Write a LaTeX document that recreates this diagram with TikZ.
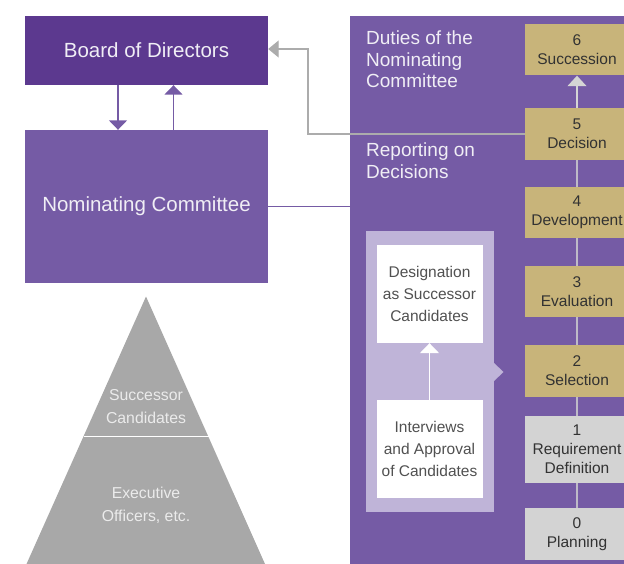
\documentclass[tikz,border=0pt]{standalone}
\usepackage{fontspec}
\setmainfont{Liberation Sans}
\usetikzlibrary{arrows.meta}
\definecolor{boardc}{RGB}{92,57,143}
\definecolor{ncc}{RGB}{117,91,165}
\definecolor{goldc}{RGB}{200,180,122}
\definecolor{stepgray}{RGB}{211,211,211}
\definecolor{lightpur}{RGB}{191,180,216}
\definecolor{trigray}{RGB}{168,168,168}
\definecolor{linegray}{RGB}{172,172,172}
\definecolor{connc}{RGB}{190,186,200}
\definecolor{txtdark}{RGB}{50,50,50}
\definecolor{txtlight}{RGB}{240,238,245}
\begin{document}
\begin{tikzpicture}[x=1pt,y=-1pt,
  headbox/.style={inner sep=0pt, text=txtlight, font=\fontsize{20.5}{24}\selectfont},
  paneltext/.style={inner sep=0pt, text=txtlight, align=left, anchor=north west, font=\fontsize{19}{21.5}\selectfont},
  stepbox/.style={inner sep=0pt, minimum width=104pt, align=center, text=txtdark, font=\fontsize{15.5}{19}\selectfont, execute at begin node={\rule{0pt}{15pt}}},
  goldstep/.style={stepbox, fill=goldc},
  graystep/.style={stepbox, fill=stepgray},
  whitebox/.style={fill=white, inner sep=0pt, minimum width=106pt, minimum height=98pt, align=center, text=txtdark!85, font=\fontsize{15.5}{21.7}\selectfont},
  tritext/.style={inner sep=0pt, align=center, text=white!92!black, font=\fontsize{15.8}{23}\selectfont},
  purarrow/.style={draw=ncc, line width=1.5pt, -{Triangle[width=18pt,length=9.5pt]}},
  conn/.style={draw=connc, line width=1.3pt},
]
\useasboundingbox (0,0) rectangle (624,564);

% left boxes
\node[headbox, fill=boardc, minimum width=243pt, minimum height=69pt] (board) at (146.5,50.5) {Board of Directors};
\node[headbox, fill=ncc, minimum width=243pt, minimum height=153pt] (nc) at (146.5,206.5) {Nominating Committee};

\draw[purarrow] ([xshift=-28.5pt]board.south) -- ([xshift=-28.5pt]nc.north);
\draw[purarrow] ([xshift=27pt]nc.north) -- ([xshift=27pt]board.south);

% right panel
\node[fill=ncc, inner sep=0pt, minimum width=290pt, minimum height=548pt] (panel) at (495,290) {};

\draw[ncc, line width=1.3pt] (nc.east) -- (nc.east -| panel.west);

\node[paneltext] (duties) at (366,31) {Duties of the\\Nominating\\Committee};
\node[paneltext] (report) at (366,143) {Reporting on\\Decisions};

% steps
\node[goldstep, minimum height=51pt] (s6) at (577,50) {6\\Succession};
\node[goldstep, minimum height=52pt] (s5) at (577,134) {5\\Decision};
\node[goldstep, minimum height=51pt] (s4) at (577,212.5) {4\\Development};
\node[goldstep, minimum height=51pt] (s3) at (577,291.5) {3\\Evaluation};
\node[goldstep, minimum height=52pt] (s2) at (577,371) {2\\Selection};
\node[graystep, minimum height=67pt] (s1) at (577,449.5) {1\\Requirement\\Definition};
\node[graystep, minimum height=52pt] (s0) at (577,534) {0\\Planning};

\draw[conn] (s0.north) -- (s1.south);
\draw[conn] (s1.north) -- (s2.south);
\draw[conn] (s2.north) -- (s3.south);
\draw[conn] (s3.north) -- (s4.south);
\draw[conn] (s4.north) -- (s5.south);
\draw[draw=stepgray!95!white, line width=1.3pt, -{Triangle[width=19pt,length=10.5pt]}] (s5.north) -- (s6.south);

% gray reporting line
\coordinate (bend) at (308,0);
\draw[linegray, line width=1.3pt, -{Triangle[width=17pt,length=10.5pt]}]
  (s5.west) -- (s5.west -| bend) |- ([yshift=1.5pt]board.east);

% light purple panel with pointer
\fill[lightpur] (366,231) rectangle (494,512);
\coordinate (ptip) at (503.5,372);
\fill[lightpur] (494,363) -- (ptip) -- (494,381) -- cycle;
\node[whitebox] (desig) at (429.5,294) {Designation\\as Successor\\Candidates};
\node[whitebox] (interv) at (429.5,449) {Interviews\\and Approval\\of Candidates};
\draw[white, line width=1.5pt, -{Triangle[width=19pt,length=10pt]}] (interv.north) -- (desig.south);

% pyramid
\coordinate (apex) at (146,296.5);
\coordinate (bl) at (26.5,564);
\coordinate (br) at (265,564);
\fill[trigray] (apex) -- (br) -- (bl) -- cycle;
\draw[white, line width=1.3pt] (83.5,436.7) -- (208.5,436.7);
\node[tritext] (succ) at (146,407) {Successor\\Candidates};
\node[tritext] (exec) at (146,505) {Executive\\Officers, etc.};
\end{tikzpicture}
\end{document}
